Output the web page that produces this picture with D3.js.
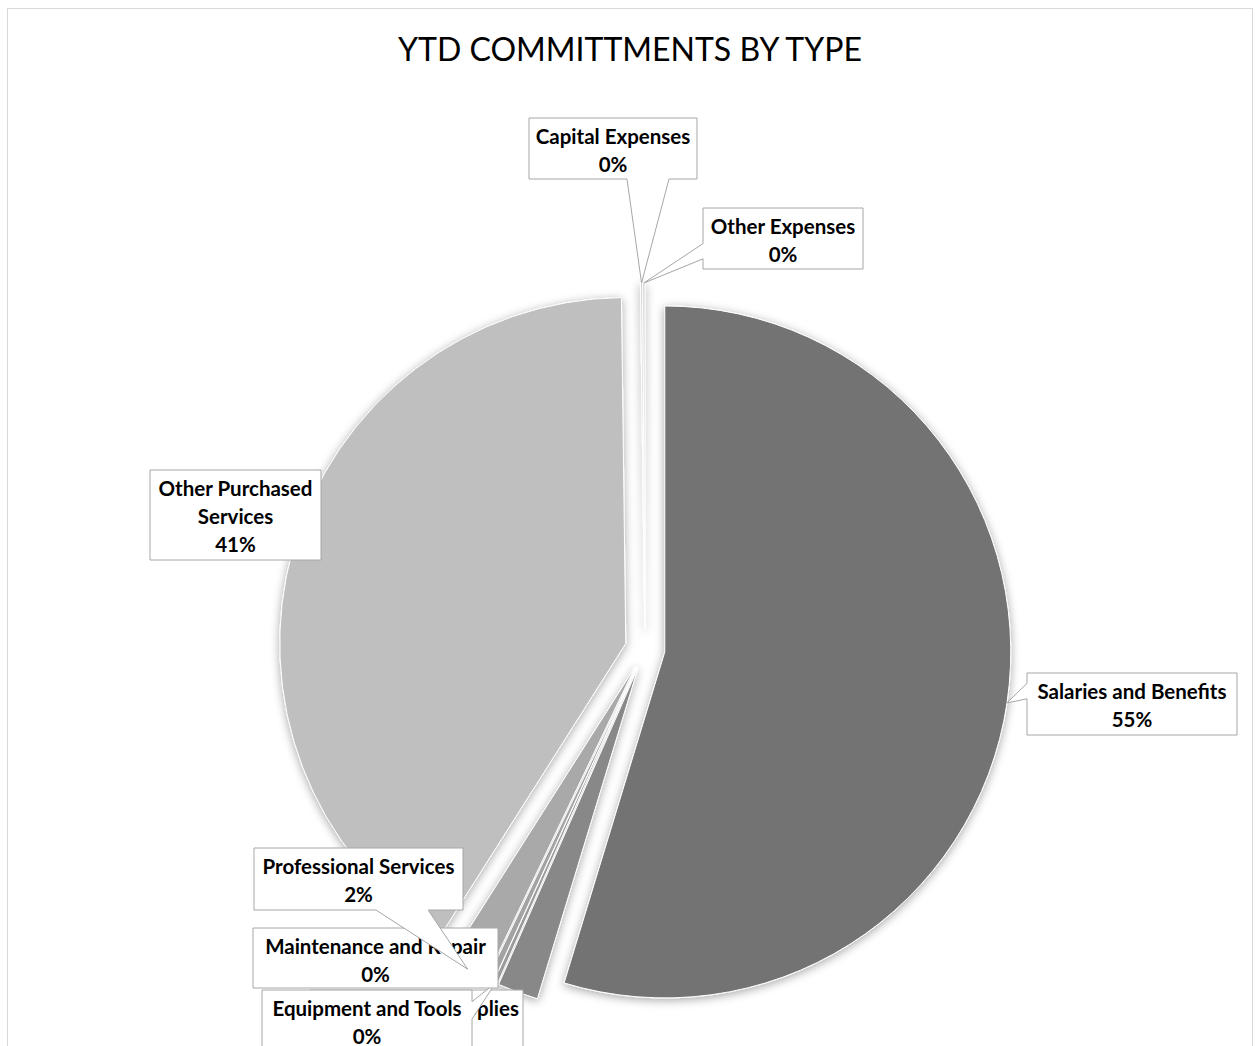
<!DOCTYPE html>
<html>
<head>
<meta charset="utf-8">
<script src="https://cdn.jsdelivr.net/npm/d3@7"></script>
<style>
  body { margin: 0; background: #fff; }
  svg { display: block; }
</style>
</head>
<body>
<svg width="1255" height="1046"></svg>
<script>
// slice order as drawn clockwise from 12 o'clock
var categories = ["Salaries and Benefits", "Materials and Supplies", "Equipment and Tools", "Maintenance and Repair",
                  "Professional Services", "Other Purchased Services", "Capital Expenses", "Other Expenses"];
var shares = [54.7, 1.9, 0.2, 0.3, 1.9, 40.8, 0.1, 0.1];
var title = "YTD COMMITTMENTS BY TYPE";

var svg = d3.select("svg"),
    width = +svg.attr("width"),
    height = +svg.attr("height");

var color = d3.scaleOrdinal()
    .domain(categories)
    .range(["#737373", "#888888", "#9c9c9c", "#a3a3a3", "#a9a9a9", "#bfbfbf", "#d4d4d4", "#cccccc"]);

// label boxes were placed by hand in the original, keep them here
var boxes = {
  "Capital Expenses":         { x: 529,  y: 118, w: 168, h: 61 },
  "Other Expenses":           { x: 703,  y: 208, w: 160, h: 61 },
  "Salaries and Benefits":    { x: 1027, y: 673, w: 210, h: 62 },
  "Other Purchased Services": { x: 150,  y: 470, w: 171, h: 90 },
  "Materials and Supplies":   { x: 310,  y: 990, w: 213, h: 70 },
  "Equipment and Tools":      { x: 262,  y: 990, w: 210, h: 70 },
  "Maintenance and Repair":   { x: 253,  y: 928, w: 245, h: 60 },
  "Professional Services":    { x: 254,  y: 848, w: 209, h: 62 }
};
var labelOrder = ["Capital Expenses", "Other Expenses", "Salaries and Benefits", "Other Purchased Services",
                  "Materials and Supplies", "Equipment and Tools", "Maintenance and Repair", "Professional Services"];

var cx = 645, cy = 649, radius = 346, explode = 20;

// frame
svg.append("rect")
    .attr("x", 7.5).attr("y", 8.5)
    .attr("width", 1245).attr("height", 1100)
    .attr("fill", "#fff")
    .attr("stroke", "#d9d9d9");

var defs = svg.append("defs");
var shadow = defs.append("filter")
    .attr("id", "shadow")
    .attr("x", "-20%").attr("y", "-20%")
    .attr("width", "140%").attr("height", "140%");
shadow.append("feDropShadow")
    .attr("dx", 0).attr("dy", 2)
    .attr("stdDeviation", 5)
    .attr("flood-color", "#000")
    .attr("flood-opacity", 0.35);

svg.append("text")
    .attr("x", 630).attr("y", 61)
    .attr("text-anchor", "middle")
    .attr("font-family", "Lato, sans-serif")
    .attr("font-size", 33.5)
    .attr("textLength", 464)
    .attr("lengthAdjust", "spacingAndGlyphs")
    .attr("fill", "#000")
    .text(title);

var data = categories.map(function(c, i) { return { name: c, value: shares[i] }; });
var total = d3.sum(shares);

var pie = d3.pie().sort(null).value(function(d) { return d.value; });
var arcs = pie(data);

var arc = d3.arc().innerRadius(0).outerRadius(radius);

function offset(d, dist) {
  var a = (d.startAngle + d.endAngle) / 2;
  return [Math.sin(a) * dist, -Math.cos(a) * dist];
}

var slices = svg.append("g")
    .attr("transform", "translate(" + cx + "," + cy + ")")
    .attr("filter", "url(#shadow)");

slices.selectAll("path")
    .data(arcs)
    .enter().append("path")
      .attr("transform", function(d) { var o = offset(d, explode); return "translate(" + o[0] + "," + o[1] + ")"; })
      .attr("d", arc)
      .attr("fill", function(d) { return color(d.data.name); })
      .attr("stroke", "#fff")
      .attr("stroke-width", 1);

// callout shape like the office wedgeRectCallout
function callout(b, px, py) {
  var l = b.x, t = b.y, r = b.x + b.w, btm = b.y + b.h;
  var hc = l + b.w / 2, vc = t + b.h / 2;
  var dx = px - hc, dy = py - vc;
  var inside = px >= l && px <= r && py >= t && py <= btm;
  var side = null;
  if (!inside) {
    var dq = dx * b.h / b.w;
    if (Math.abs(dy) > Math.abs(dq)) side = dy < 0 ? "top" : "bottom";
    else side = dx < 0 ? "left" : "right";
  }
  var x1 = l + b.w * (dx > 0 ? 7 : 2) / 12, x2 = l + b.w * (dx > 0 ? 10 : 5) / 12;
  var y1 = t + b.h * (dy > 0 ? 7 : 2) / 12, y2 = t + b.h * (dy > 0 ? 10 : 5) / 12;
  var p = d3.path();
  p.moveTo(l, t);
  if (side == "top") { p.lineTo(x1, t); p.lineTo(px, py); p.lineTo(x2, t); }
  p.lineTo(r, t);
  if (side == "right") { p.lineTo(r, y1); p.lineTo(px, py); p.lineTo(r, y2); }
  p.lineTo(r, btm);
  if (side == "bottom") { p.lineTo(x2, btm); p.lineTo(px, py); p.lineTo(x1, btm); }
  p.lineTo(l, btm);
  if (side == "left") { p.lineTo(l, y2); p.lineTo(px, py); p.lineTo(l, y1); }
  p.closePath();
  return p.toString();
}

var byName = {};
arcs.forEach(function(d) { byName[d.data.name] = d; });

var labels = svg.append("g")
    .attr("font-family", "Lato, sans-serif")
    .attr("font-weight", "bold")
    .attr("font-size", 20.5);

labelOrder.forEach(function(name) {
  var d = byName[name], b = boxes[name];
  var tip = offset(d, radius + explode);
  var g = labels.append("g");
  g.append("path")
      .attr("d", callout(b, cx + tip[0], cy + tip[1]))
      .attr("fill", "#fff")
      .attr("stroke", "#a6a6a6")
      .attr("stroke-width", 1);

  var pct = Math.round(d.data.value / total * 100) + "%";
  // wrap the name to the box width
  var words = name.split(" "), lines = [], cur = "";
  var probe = g.append("text");
  words.forEach(function(w) {
    var trial = cur ? cur + " " + w : w;
    probe.text(trial);
    if (cur && probe.node().getComputedTextLength() > b.w - 6) { lines.push(cur); cur = w; }
    else cur = trial;
  });
  lines.push(cur);
  probe.remove();
  lines.push(pct);

  var txt = g.append("text")
      .attr("text-anchor", "middle")
      .attr("fill", "#000");
  lines.forEach(function(s, i) {
    txt.append("tspan")
        .attr("x", b.x + b.w / 2)
        .attr("y", b.y + 26 + i * 28)
        .text(s);
  });
});
</script>
</body>
</html>
